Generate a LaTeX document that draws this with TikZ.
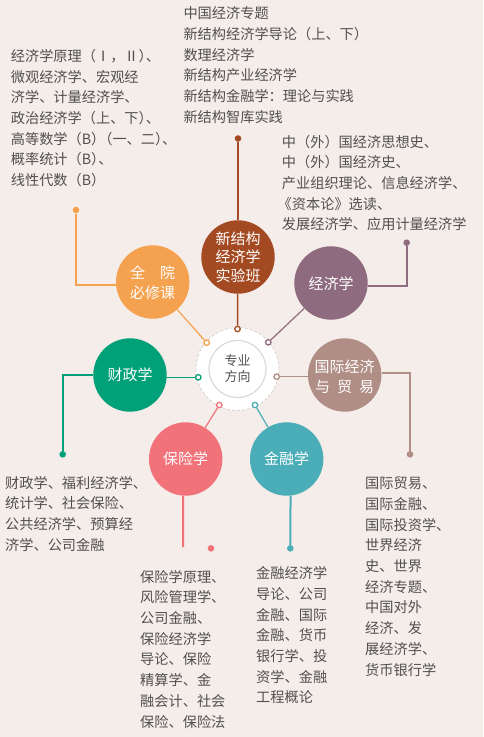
\documentclass[tikz,border=0pt]{standalone}
\usepackage{fontspec}
\setmainfont{Noto Sans CJK SC}
\definecolor{bgc}{HTML}{F5EDE9}
\definecolor{txt}{HTML}{505050}
\definecolor{brn}{HTML}{A34A22}
\definecolor{org}{HTML}{F5A250}
\definecolor{pur}{HTML}{8E6B7E}
\definecolor{grn}{HTML}{00A078}
\definecolor{tau}{HTML}{B08E86}
\definecolor{pnk}{HTML}{F2727A}
\definecolor{tel}{HTML}{4BADB8}
\definecolor{ringc}{HTML}{D6D2D0}
\definecolor{innc}{HTML}{DADADA}
\newcommand{\blk}[1]{\begin{tabular}[t]{@{}l@{}}#1\end{tabular}}
\newcommand{\ctr}[1]{\begin{tabular}{@{}c@{}}#1\end{tabular}}
\tikzset{
  body/.style={anchor=base west, inner sep=0pt, text=txt, font=\fontsize{14.2}{20.7}\selectfont},
  bigc/.style={circle, minimum size=73.4pt, inner sep=0pt, fill=#1},
  ctxt/.style={inner sep=0pt, text=white, font=\fontsize{15}{#1}\selectfont},
  ringdot/.style={circle, draw=#1, fill=white, line width=1.3pt, minimum size=5.4pt, inner sep=0pt},
  enddot/.style={circle, fill=#1, minimum size=6.6pt, inner sep=0pt},
  thin/.style={#1, line width=1.2pt},
  thick/.style={#1, line width=2pt},
}
\begin{document}
\begin{tikzpicture}[x=1pt,y=-1pt]
\fill[bgc] (0,0) rectangle (483,737);
\useasboundingbox (0,0) rectangle (483,737);

% centre ring
\node[circle, fill=white, draw=ringc, line width=0.8pt, dash pattern=on 3pt off 2pt, minimum size=83pt, inner sep=0pt] (ring) at (237.5,369) {};
\node[circle, fill=white, draw=innc, line width=1.2pt, minimum size=57pt, inner sep=0pt] (inner) at (237.5,369) {};
\node[inner sep=0pt, text=txt, font=\fontsize{13}{15.7}\selectfont] (inner-t) at (237.5,370.7) {\ctr{专业\\方向}};

% big circles
\node[bigc=brn] (xjg) at (238,257) {};
\node[bigc=org] (qy) at (152.7,282) {};
\node[bigc=pur] (jjx) at (331,283) {};
\node[bigc=grn] (czx) at (130,375) {};
\node[bigc=tau] (gjjj) at (344.7,375) {};
\node[bigc=pnk] (bxx) at (185.7,459) {};
\node[bigc=tel] (jrx) at (286.7,459) {};

\node[ctxt=18] (xjg-t) at (238,259.3) {\ctr{新结构\\经济学\\实验班}};
\node[ctxt=19.4] (qy-t) at (152.7,284.8) {\ctr{全\hspace{1em}院\\必修课}};
\node[ctxt=18] (jjx-t) at (331,285.4) {\ctr{经济学}};
\node[ctxt=20] (gjjj-t) at (344.7,378.4) {\ctr{国际经济\\与\hspace{7pt}贸\hspace{7pt}易}};
\node[ctxt=18] (czx-t) at (130,376.4) {\ctr{财政学}};
\node[ctxt=18] (bxx-t) at (185.7,461.1) {\ctr{保险学}};
\node[ctxt=18] (jrx-t) at (286.7,461.1) {\ctr{金融学}};

% ring dots
\node[ringdot=brn] (bdot) at (237.5,329) {};
\node[ringdot=org] (odot) at (206.7,342.7) {};
\node[ringdot=pur] (pdot) at (268.3,342.3) {};
\node[ringdot=grn] (gdot) at (198.3,377.3) {};
\node[ringdot=tau] (tdot) at (276.7,376.7) {};
\node[ringdot=pnk] (kdot) at (219.3,405) {};
\node[ringdot=tel] (jdot) at (255,405) {};

% end dots
\node[enddot=brn] (bend) at (238,138.5) {};
\node[enddot=org] (oend) at (76,210) {};
\node[enddot=pur] (pend) at (406.7,242.7) {};
\node[enddot=grn] (gend) at (62.7,454.3) {};
\node[enddot=tau] (tend) at (410,454.3) {};
\node[enddot=pnk] (kend) at (211,548.3) {};
\node[enddot=tel] (jend) at (290.3,548.3) {};
\coordinate (kline) at (183.2,547);

% connectors
\draw[brn, line width=1.5pt] (bdot) -- (xjg);
\draw[thick=brn] (xjg) -- (bend);
\draw[thin=org] (odot) -- (qy);
\draw[thick=org] (qy.185) -| (oend);
\draw[thin=pur] (pdot) -- (jjx);
\draw[thick=pur] (jjx.355) -| (pend);
\draw[thin=grn] (gdot) -- (gdot -| czx.east);
\draw[thick=grn] (czx.west) -| (gend);
\draw[thin=tau] (tdot) -- (tdot -| gjjj.west);
\draw[thick=tau] (gjjj.3) -| (tend);
\draw[thin=pnk] (kdot) -- (bxx);
\draw[thick=pnk] (bxx.266) -- (kline);
\draw[thin=tel] (jdot) -- (jrx);
\draw[thick=tel] (jrx.276) -- (jend);

% text blocks
\node[body] (t-qy) at (10.7,61.4) {\blk{经济学原理（Ⅰ，Ⅱ）\hspace{-0.5em}、\\微观经济学、宏观经\\济学、计量经济学、\\政治经济学（上、下）\hspace{-0.5em}、\\高等数学（B）\hspace{-0.5em}（一、二）\hspace{-0.5em}、\\概率统计（B）\hspace{-0.5em}、\\线性代数（B）}};
\node[body] (t-xjg) at (183.3,18.7) {\blk{中国经济专题\\新结构经济学导论（上、下）\\数理经济学\\新结构产业经济学\\新结构金融学：理论与实践\\新结构智库实践}};
\node[body] (t-jjx) at (281.7,147.1) {\blk{中（外）国经济思想史、\\中（外）国经济史、\\产业组织理论、信息经济学、\\\hspace*{-4.2pt}《资本论》选读、\\发展经济学、应用计量经济学}};
\node[body] (t-czx) at (5,488.1) {\blk{财政学、福利经济学、\\统计学、社会保险、\\公共经济学、预算经\\济学、公司金融}};
\node[body] (t-bxx) at (140,582.1) {\blk{保险学原理、\\风险管理学、\\公司金融、\\保险经济学\\导论、保险\\精算学、金\\融会计、社会\\保险、保险法}};
\node[body] (t-jrx) at (256,578.7) {\blk{金融经济学\\导论、公司\\金融、国际\\金融、货币\\银行学、投\\资学、金融\\工程概论}};
\node[body] (t-gjjj) at (365,488.7) {\blk{国际贸易、\\国际金融、\\国际投资学、\\世界经济\\史、世界\\经济专题、\\中国对外\\经济、发\\展经济学、\\货币银行学}};
\end{tikzpicture}
\end{document}
